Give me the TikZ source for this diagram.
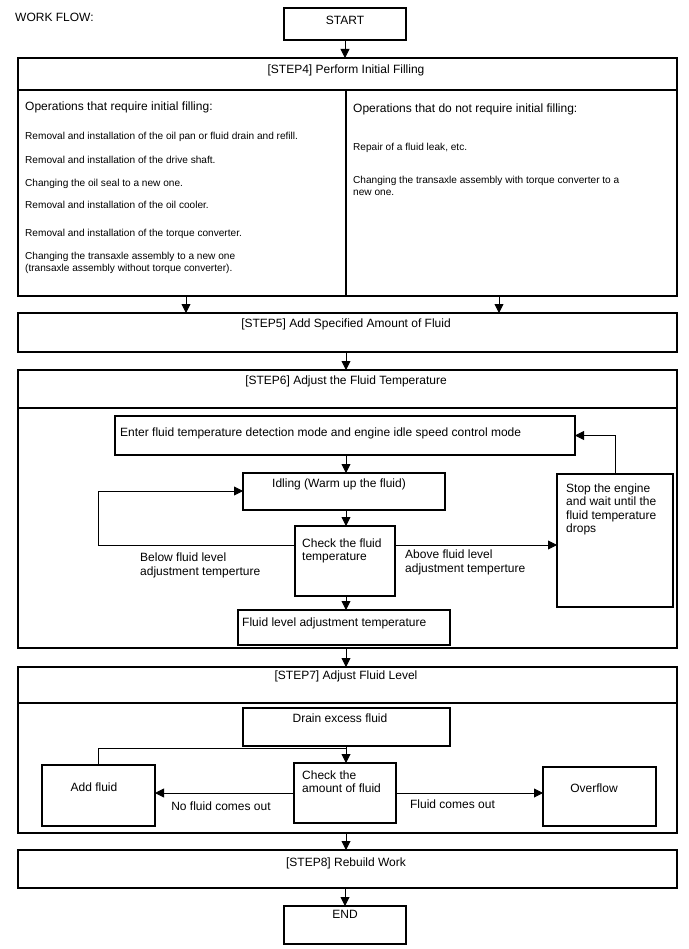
\documentclass[tikz,border=0pt]{standalone}
\usepackage{fontspec}
\setmainfont{Liberation Sans}
\usetikzlibrary{arrows.meta,calc}
\begin{document}
\begin{tikzpicture}[x=1pt,y=-1pt,
  box/.style={draw,line width=1.3pt,inner sep=0pt,outer sep=0pt},
  band/.style={line width=1.3pt},
  conn/.style={line width=0.9pt},
  arr/.style={conn,-{Triangle[length=9pt,width=9pt]}},
  txt/.style={inner sep=0pt,anchor=north west,align=left,font=\fontsize{12}{13.5}\selectfont},
  ctxt/.style={txt,anchor=north,align=center},
  lbl/.style={txt,font=\fontsize{12}{14}\selectfont},
  item/.style={txt,font=\fontsize{10.1}{12}\selectfont},
]
\fill[white] (0,0) rectangle (688,949);
\useasboundingbox (0,0) rectangle (688,949);

\coordinate (xm) at (346,0);
\coordinate (xa) at (186,0);
\coordinate (xb) at (499,0);

% header
\node[txt] (wf) at (15,12.5) {WORK FLOW:};
\node[box,minimum width=122pt,minimum height=32pt] (start) at (345,24) {};
\node[ctxt] (tstart) at (345,15.5) {START};

% STEP4
\node[box,minimum width=659pt,minimum height=238pt] (s4) at (347.5,177) {};
\draw[band] ([yshift=-32pt]s4.north west) -- ([yshift=-32pt]s4.north east);
\draw[band] ([yshift=-32pt]s4.north -| xm) -- (s4.south -| xm);
\node[ctxt] (t4) at (346,64.5) {[STEP4] Perform Initial Filling};
\node[txt] (h4l) at (25,102) {Operations that require initial filling:};
\node[item] (i1) at (25,132) {Removal and installation of the oil pan or fluid drain and refill.};
\node[item] (i2) at (25,156) {Removal and installation of the drive shaft.};
\node[item] (i3) at (25,179) {Changing the oil seal to a new one.};
\node[item] (i4) at (25,201) {Removal and installation of the oil cooler.};
\node[item] (i5) at (25,229) {Removal and installation of the torque converter.};
\node[item] (i6) at (25,252) {Changing the transaxle assembly to a new one\\(transaxle assembly without torque converter).};
\node[txt] (h4r) at (353,103.5) {Operations that do not require initial filling:};
\node[item] (r1) at (353,143) {Repair of a fluid leak, etc.};
\node[item] (r2) at (353,176) {Changing the transaxle assembly with torque converter to a\\new one.};

% STEP5
\node[box,minimum width=659pt,minimum height=39pt] (s5) at (347.5,332.5) {};
\node[ctxt] (t5) at (346,318.5) {[STEP5] Add Specified Amount of Fluid};

% STEP6
\node[box,minimum width=659pt,minimum height=278pt] (s6) at (347.5,509) {};
\draw[band] ([yshift=-38pt]s6.north west) -- ([yshift=-38pt]s6.north east);
\node[ctxt] (t6) at (346,375.5) {[STEP6] Adjust the Fluid Temperature};

\node[box,minimum width=460pt,minimum height=39pt] (enter) at (345,435.5) {};
\node[txt] (tenter) at (120,427.5) {Enter fluid temperature detection mode and engine idle speed control mode};
\node[box,minimum width=202pt,minimum height=37pt] (idle) at (344,491.5) {};
\node[ctxt] (tidle) at (339,478.5) {Idling (Warm up the fluid)};
\node[box,minimum width=100pt,minimum height=70pt] (chk) at (345,561) {};
\node[txt] (tchk) at (302,538.5) {Check the fluid\\temperature};
\node[box,minimum width=212pt,minimum height=35pt] (fla) at (344,627.5) {};
\node[txt] (tfla) at (242,617.5) {Fluid level adjustment temperature};
\node[box,minimum width=116pt,minimum height=133pt] (stop) at (615,540.5) {};
\node[txt] (tstop) at (566,483.5) {Stop the engine\\and wait until the\\fluid temperature\\drops};
\node[lbl] (below) at (140,552.5) {Below fluid level\\adjustment temperture};
\node[lbl] (above) at (405,549.5) {Above fluid level\\adjustment temperture};

% STEP7
\node[box,minimum width=659pt,minimum height=166pt] (s7) at (347.5,750) {};
\draw[band] ([yshift=-36pt]s7.north west) -- ([yshift=-36pt]s7.north east);
\node[ctxt] (t7) at (346,670.5) {[STEP7] Adjust Fluid Level};

\node[box,minimum width=207pt,minimum height=38pt] (drain) at (346.5,727) {};
\node[ctxt] (tdrain) at (340,713.5) {Drain excess fluid};
\node[box,minimum width=102pt,minimum height=60pt] (camt) at (345,793) {};
\node[txt] (tcamt) at (302,770.5) {Check the\\amount of fluid};
\node[box,minimum width=113pt,minimum height=61pt] (add) at (98.5,795.5) {};
\node[ctxt] (tadd) at (94,782.5) {Add fluid};
\node[box,minimum width=113pt,minimum height=59pt] (ovf) at (599.5,796.5) {};
\node[ctxt] (tovf) at (594,783.5) {Overflow};
\node[ctxt] (nofl) at (221,801.5) {No fluid comes out};
\node[ctxt] (fl) at (452.5,799.5) {Fluid comes out};

% STEP8
\node[box,minimum width=659pt,minimum height=38pt] (s8) at (347.5,869) {};
\node[ctxt] (t8) at (346,857.5) {[STEP8] Rebuild Work};
\node[box,minimum width=122pt,minimum height=38pt] (end) at (345,925) {};
\node[ctxt] (tend) at (345,910.5) {END};

% connectors
\draw[arr] (start.south) -- (start.south |- s4.north);
\draw[arr] (xa |- s4.south) -- (xa |- s5.north);
\draw[arr] (xb |- s4.south) -- (xb |- s5.north);
\draw[arr] (xm |- s5.south) -- (xm |- s6.north);
\draw[arr] (xm |- enter.south) -- (xm |- idle.north);
\draw[arr] (xm |- idle.south) -- (xm |- chk.north);
\draw[arr] (xm |- chk.south) -- (xm |- fla.north);
\coordinate (cl) at ([yshift=-19pt]chk.north west);
\coordinate (cr) at ([yshift=-19pt]chk.north east);
\coordinate (il) at ([yshift=-18pt]idle.north west);
\coordinate (loopx) at (98,0);
\draw[arr] (cl) -- (cl -| loopx) |- (il);
\draw[arr] (cr) -- (cr -| stop.west);
\draw[arr] (stop.north) |- (enter.east);
\draw[arr] (xm |- s6.south) -- (xm |- s7.north);
\draw[arr] (xm |- drain.south) -- (xm |- camt.north);
\coordinate (jn) at (346,748);
\draw[conn] (add.north) |- (jn);
\draw[arr] (camt.west) -- (camt.west -| add.east);
\draw[arr] (camt.east) -- (camt.east -| ovf.west);
\draw[arr] (xm |- s7.south) -- (xm |- s8.north);
\draw[arr] (end.north |- s8.south) -- (end.north);
\end{tikzpicture}
\end{document}
